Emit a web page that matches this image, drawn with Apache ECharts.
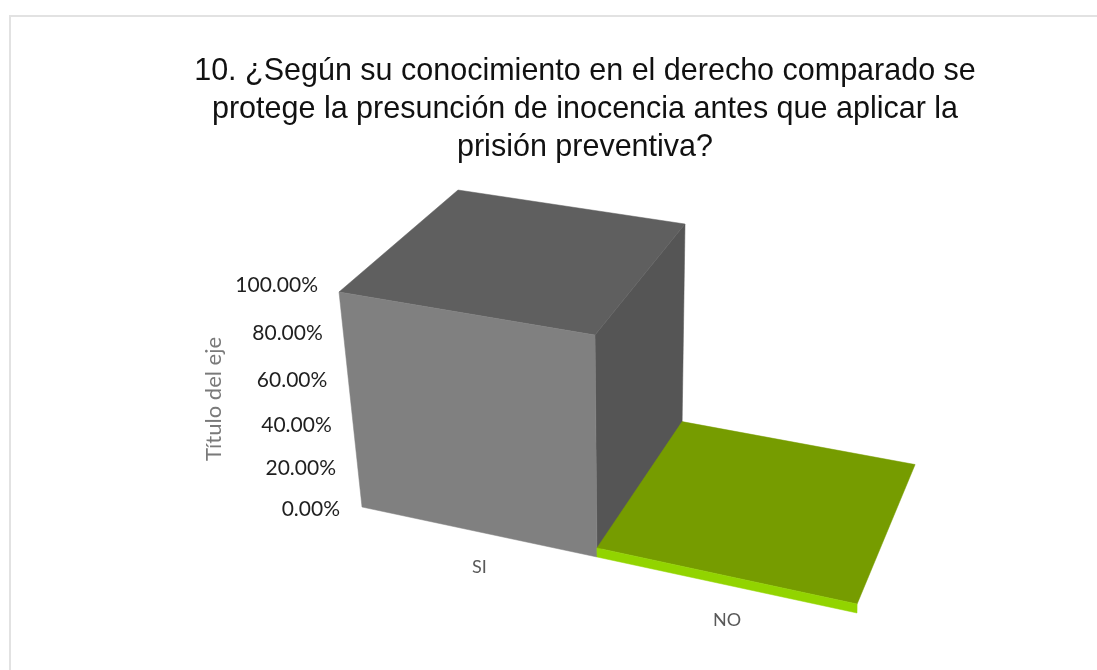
<!DOCTYPE html>
<html>
<head>
<meta charset="utf-8">
<title>Pregunta 10</title>
<script src="https://cdn.jsdelivr.net/npm/echarts@6/dist/echarts.min.js"></script>
<style>
html, body { margin: 0; padding: 0; background: #fff; }
#chart { width: 1097px; height: 670px; }
</style>
</head>
<body>
<div id="chart"></div>
<script>
// data
let categories = ["SI", "NO"];
let values = [1, 0];
let tickValues = [0, 0.2, 0.4, 0.6, 0.8, 1];
let tickLabels = ["0.00%", "20.00%", "40.00%", "60.00%", "80.00%", "100.00%"];
let chartTitle = "10. ¿Según su conocimiento en el derecho comparado se\nprotege la presunción de inocencia antes que aplicar la\nprisión preventiva?";
let axisTitle = "Título del eje";

// the fake 3d box: for each category edge, [front bottom, front top, back bottom, back top]
let edges = [
    [[362, 507], [339, 292], [476, 390], [458, 190]],
    [[597, 557], [595, 335], [682, 430], [685, 224]],
    [[857, 613], [860, 392], [915, 473], [918, 265]]
];
// the tick labels run on their own slanted line, right aligned
let tickLine = [[340, 509], [318, 285]];
let barStyles = [
    {front: "#808080", top: "#5f5f5f", side: "#555555"},
    {front: "#92d400", top: "#769c00", side: "#769c00"}
];
let minPlate = 0.045;   // a zero bar is still drawn as a thin plate

let gridBox = {left: 300, top: 249, width: 500, height: 300};

function lerp(a, b, t)
{
    return [a[0] + (b[0] - a[0]) * t, a[1] + (b[1] - a[1]) * t];
}

// value to height on the face, a bit of perspective
function perspective(v)
{
    return v * 0.9 / (1 - 0.1 * v);
}

function front(edge, v) { return lerp(edges[edge][0], edges[edge][1], perspective(v)); }
function back(edge, v) { return lerp(edges[edge][2], edges[edge][3], perspective(v)); }

// pixel from the hidden grid back to a 0..1 height
function heightOf(api, value)
{
    let y = api.coord([0, value])[1];
    return (gridBox.top + gridBox.height - y) / gridBox.height;
}

function poly(points, color)
{
    return {type: "polygon", shape: {points: points}, style: {fill: color, stroke: color, lineWidth: 0.5}};
}

function renderBar(params, api)
{
    let i = api.value(0);
    let raw = heightOf(api, api.value(1));
    let v = Math.max(raw, minPlate);
    let style = barStyles[i];
    let a = i, b = i + 1;
    let children = [];
    if (raw > minPlate)
    {
        children.push(poly([front(b, 0), front(b, v), back(b, v), back(b, 0)], style.side));
    }
    children.push(poly([front(a, v), front(b, v), back(b, v), back(a, v)], style.top));
    children.push(poly([front(a, 0), front(b, 0), front(b, v), front(a, v)], style.front));
    return {type: "group", children: children};
}

function renderTick(params, api)
{
    let v = heightOf(api, api.value(0));
    let p = lerp(tickLine[0], tickLine[1], perspective(v));
    return {
        type: "text",
        x: p[0],
        y: p[1],
        style: {
            text: tickLabels[params.dataIndex],
            align: "right",
            verticalAlign: "middle",
            fill: "#1f1f1f",
            font: "21px Lato"
        }
    };
}

function renderCategory(params, api)
{
    let i = api.value(0);
    let p = lerp(front(i, 0), front(i + 1, 0), 0.5);
    return {
        type: "text",
        x: p[0],
        y: p[1] + 35,
        style: {
            text: categories[i],
            align: "center",
            verticalAlign: "middle",
            fill: "#595959",
            font: "18px Lato"
        }
    };
}

var myChart = echarts.init(document.getElementById("chart"));

let option = {
    animation: false,
    backgroundColor: "#fff",
    title: {
        text: chartTitle,
        left: 580,
        top: 48,
        textAlign: "center",
        textStyle: {
            color: "#111",
            fontFamily: "Liberation Sans",
            fontWeight: "normal",
            fontSize: 30.5,
            lineHeight: 38
        }
    },
    grid: gridBox,
    xAxis: {
        type: "category",
        data: categories,
        show: false
    },
    yAxis: {
        type: "value",
        min: 0,
        max: 1,
        name: axisTitle,
        nameLocation: "middle",
        nameRotate: 90,
        nameGap: 75,
        nameTextStyle: {color: "#7a7a7a", fontFamily: "Lato", fontSize: 22},
        axisLine: {show: false},
        axisTick: {show: false},
        axisLabel: {show: false},
        splitLine: {show: false}
    },
    graphic: [
        {type: "polyline", shape: {points: [[10, 670], [10, 16], [1097, 16]]}, style: {stroke: "#e2e2e2", lineWidth: 2, fill: null}}
    ],
    series: [
        {
            type: "custom",
            renderItem: renderBar,
            data: values.map((v, i) => [i, v]),
            encode: {x: 0, y: 1}
        },
        {
            type: "custom",
            renderItem: renderTick,
            data: tickValues.map(v => [v]),
            encode: {y: 0}
        },
        {
            type: "custom",
            renderItem: renderCategory,
            data: categories.map((c, i) => [i]),
            encode: {x: 0}
        }
    ]
};
myChart.setOption(option);
</script>
</body>
</html>
